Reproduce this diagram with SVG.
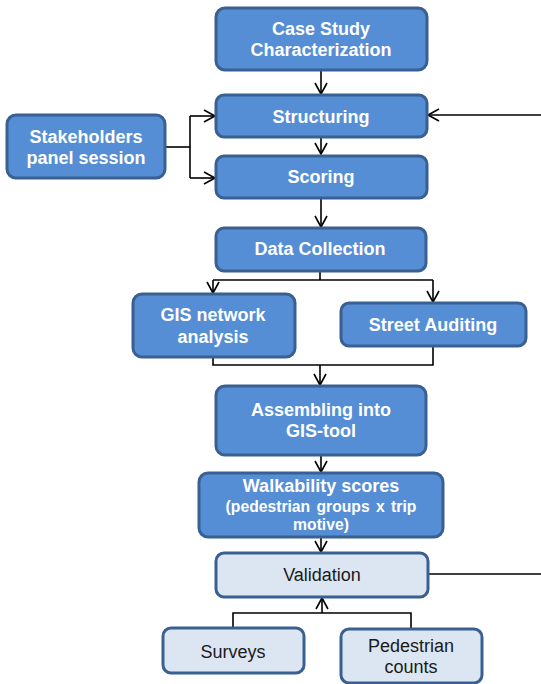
<svg xmlns="http://www.w3.org/2000/svg" width="541" height="684" viewBox="0 0 541 684">
  <defs>
    <marker id="arrow" markerUnits="userSpaceOnUse" markerWidth="15" markerHeight="16" refX="12" refY="7" orient="auto">
      <path d="M1,1 L12,7 L1,13" fill="none" stroke="#000" stroke-width="1.6"/>
    </marker>
    <style>
      .box { fill: #558ED5; stroke: #3A6091; stroke-width: 3; }
      .lbox { fill: #DCE6F2; stroke: #3A6091; stroke-width: 3; }
      .t { font-family: "Liberation Sans", Arial, sans-serif; font-weight: bold; font-size: 18px; fill: #ffffff; text-anchor: middle; }
      .ts { font-family: "Liberation Sans", Arial, sans-serif; font-weight: bold; font-size: 15.7px; fill: #ffffff; text-anchor: middle; word-spacing: 2px; }
      .tl { font-family: "Liberation Sans", Arial, sans-serif; font-size: 18px; fill: #1a1a1a; text-anchor: middle; }
      .c { fill: none; stroke: #000; stroke-width: 1.6; }
      .ca { fill: none; stroke: #000; stroke-width: 1.6; marker-end: url(#arrow); }
    </style>
  </defs>

  <!-- connectors -->
  <g id="connectors">
    <path class="ca" d="M321,71 V94"/>
    <path class="ca" d="M321,137 V154"/>
    <path class="ca" d="M321,199 V227"/>
    <path class="c" d="M166,147 H190"/>
    <path class="c" d="M190,116 V178"/>
    <path class="ca" d="M190,116 H215"/>
    <path class="ca" d="M190,178 H215"/>
    <path class="c" d="M320,271 V280"/>
    <path class="c" d="M213,280 H433"/>
    <path class="ca" d="M213,280 V293"/>
    <path class="ca" d="M433,280 V302"/>
    <path class="c" d="M213,357 V365 H433 V346"/>
    <path class="ca" d="M320,365 V385"/>
    <path class="ca" d="M321,455 V472"/>
    <path class="ca" d="M321,537 V552"/>
    <path class="c" d="M233,628 V613 H411 V629"/>
    <path class="ca" d="M322,613 V598"/>
    <path class="c" d="M428,574 H541"/>
    <path class="ca" d="M541,115 H428"/>
  </g>

  <g id="case-study">
    <rect class="box" x="216" y="8" width="211" height="62" rx="9"/>
    <text class="t" x="321" y="35">Case Study</text>
    <text class="t" x="321" y="56">Characterization</text>
  </g>

  <g id="structuring">
    <rect class="box" x="216" y="95" width="211" height="42" rx="8"/>
    <text class="t" x="321" y="123">Structuring</text>
  </g>

  <g id="scoring">
    <rect class="box" x="216" y="156" width="211" height="42" rx="8"/>
    <text class="t" x="321" y="183">Scoring</text>
  </g>

  <g id="stakeholders">
    <rect class="box" x="7" y="115" width="158" height="63" rx="9"/>
    <text class="t" x="86" y="143">Stakeholders</text>
    <text class="t" x="86" y="164">panel session</text>
  </g>

  <g id="data-collection">
    <rect class="box" x="216" y="228" width="210" height="43" rx="8"/>
    <text class="t" x="320" y="255">Data Collection</text>
  </g>

  <g id="gis-network">
    <rect class="box" x="133" y="294" width="162" height="63" rx="9"/>
    <text class="t" x="213" y="321">GIS network</text>
    <text class="t" x="213" y="343">analysis</text>
  </g>

  <g id="street-auditing">
    <rect class="box" x="341" y="303" width="185" height="43" rx="8"/>
    <text class="t" x="433" y="331">Street Auditing</text>
  </g>

  <g id="assembling">
    <rect class="box" x="216" y="386" width="210" height="69" rx="9"/>
    <text class="t" x="321" y="416">Assembling into</text>
    <text class="t" x="321" y="437">GIS-tool</text>
  </g>

  <g id="walkability">
    <rect class="box" x="199" y="473" width="244" height="64" rx="9"/>
    <text class="t" x="321" y="492">Walkability scores</text>
    <text class="ts" x="321" y="512">(pedestrian groups x trip</text>
    <text class="ts" x="321" y="530">motive)</text>
  </g>

  <g id="validation">
    <rect class="lbox" x="216" y="553" width="212" height="44" rx="8"/>
    <text class="tl" x="322" y="581">Validation</text>
  </g>

  <g id="surveys">
    <rect class="lbox" x="163" y="628" width="141" height="45" rx="8"/>
    <text class="tl" x="233" y="658">Surveys</text>
  </g>

  <g id="pedestrian-counts">
    <rect class="lbox" x="341" y="629" width="141" height="54" rx="8"/>
    <text class="tl" x="411" y="652">Pedestrian</text>
    <text class="tl" x="411" y="673">counts</text>
  </g>
</svg>
